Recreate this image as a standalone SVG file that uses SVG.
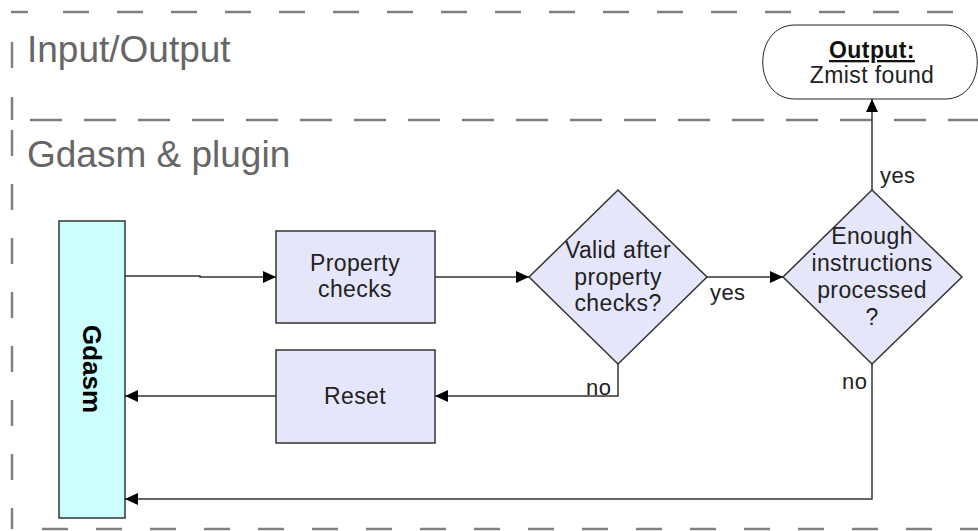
<svg xmlns="http://www.w3.org/2000/svg" width="978" height="531" viewBox="0 0 978 531">
<style>
.lane{stroke:#808080;stroke-width:2.5;fill:none}
.title{font-family:"Liberation Sans",Arial,sans-serif;font-size:37px;fill:#666}
.box{fill:#e6e6fa;stroke:#333;stroke-width:1.5}
.t{font-family:"Liberation Sans",Arial,sans-serif;font-size:23px;letter-spacing:0.4px;fill:#222;text-anchor:middle}
.lbl{font-family:"Liberation Sans",Arial,sans-serif;font-size:22px;letter-spacing:0.4px;fill:#222}
.con{stroke:#333;stroke-width:1.5;fill:none}
</style>
<defs>
<marker id="ah" markerUnits="userSpaceOnUse" markerWidth="14" markerHeight="12" refX="13" refY="6" orient="auto">
<path d="M0,0 L13,6 L0,12 Z" fill="#000"/>
</marker>
</defs>
<rect width="978" height="531" fill="#fff"/>
<g id="lanes">
<line class="lane" x1="11" y1="12" x2="28" y2="12"/>
<line class="lane" x1="63" y1="12" x2="978" y2="12" stroke-dasharray="26 28"/>
<line class="lane" x1="30" y1="120" x2="978" y2="120" stroke-dasharray="32 22"/>
<line class="lane" x1="12" y1="42" x2="12" y2="120" stroke-dasharray="26 29"/>
<line class="lane" x1="12" y1="130" x2="12" y2="529" stroke-dasharray="26 28"/>
<line class="lane" x1="42" y1="529" x2="978" y2="529" stroke-dasharray="26 28"/>
<text class="title" x="27" y="62">Input/Output</text>
<text class="title" x="27" y="167">Gdasm &amp; plugin</text>
</g>
<g id="gdasm">
<rect x="59" y="221" width="66" height="297" fill="#ccffff" stroke="#333" stroke-width="1.5"/>
<text transform="translate(92,369) rotate(90)" x="0" y="0" font-family="Liberation Sans,Arial,sans-serif" font-size="26" font-weight="bold" fill="#000" text-anchor="middle" dominant-baseline="central">Gdasm</text>
</g>
<g id="property">
<rect class="box" x="276" y="231" width="159" height="92"/>
<text class="t" x="355" y="271">Property</text>
<text class="t" x="355" y="297">checks</text>
</g>
<g id="reset">
<rect class="box" x="276" y="350" width="159" height="93"/>
<text class="t" x="355" y="404">Reset</text>
</g>
<g id="valid">
<polygon class="box" points="618,190 707,277 618,364 529,277" stroke-width="1"/>
<text class="t" x="618" y="258">Valid after</text>
<text class="t" x="618" y="285">property</text>
<text class="t" x="618" y="311">checks?</text>
</g>
<g id="enough">
<polygon class="box" points="872,190 962,277 872,364 783,277" stroke-width="1"/>
<text class="t" x="872" y="244">Enough</text>
<text class="t" x="872" y="271">instructions</text>
<text class="t" x="872" y="298">processed</text>
<text class="t" x="872" y="325">?</text>
</g>
<g id="output">
<path d="M795,25 H945 C988,25 988,99 945,99 H795 C752,99 752,25 795,25 Z" fill="#fff" stroke="#222" stroke-width="1"/>
<text x="872" y="58" font-family="Liberation Sans,Arial,sans-serif" font-size="23" font-weight="bold" fill="#111" text-anchor="middle" text-decoration="underline" letter-spacing="0.4">Output:</text>
<text class="t" x="872" y="83">Zmist found</text>
</g>
<g id="connectors">
<path class="con" d="M125,276 H200 V277 H276" marker-end="url(#ah)"/>
<path class="con" d="M435,277 H529" marker-end="url(#ah)"/>
<path class="con" d="M707,277 H783" marker-end="url(#ah)"/>
<path class="con" d="M618,364 V396 H435" marker-end="url(#ah)"/>
<path class="con" d="M276,396 H125" marker-end="url(#ah)"/>
<path class="con" d="M872,364 V499 H125" marker-end="url(#ah)"/>
<path class="con" d="M872,190 V99" marker-end="url(#ah)"/>
<text class="lbl" x="710" y="300">yes</text>
<text class="lbl" x="586" y="395">no</text>
<text class="lbl" x="842" y="389">no</text>
<text class="lbl" x="880" y="183">yes</text>
</g>
</svg>
